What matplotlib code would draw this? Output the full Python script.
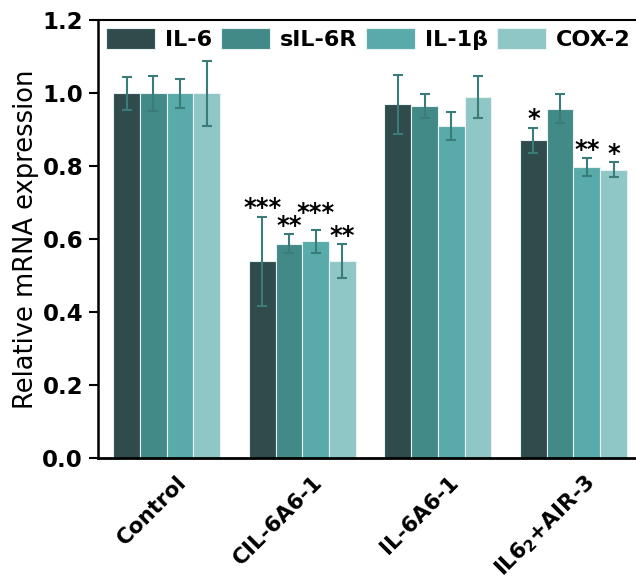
import numpy as np
import matplotlib
matplotlib.use('Agg')
import matplotlib.pyplot as plt
from matplotlib.transforms import ScaledTranslation

groups = ['Control', 'CIL-6A6-1', 'IL-6A6-1', 'IL6$_{\\mathbf{2}}$+AIR-3']
genes = ['IL-6', 'sIL-6R', 'IL-1β', 'COX-2']

il6 = [1.00, 0.54, 0.97, 0.872]
sil6r = [1.00, 0.588, 0.966, 0.958]
il1b = [1.00, 0.595, 0.911, 0.798]
cox2 = [1.00, 0.541, 0.990, 0.791]

il6_err = [0.045, 0.122, 0.080, 0.034]
sil6r_err = [0.047, 0.026, 0.032, 0.040]
il1b_err = [0.039, 0.032, 0.038, 0.024]
cox2_err = [0.088, 0.046, 0.058, 0.020]

il6_sig = ['', '***', '', '*']
sil6r_sig = ['', '**', '', '']
il1b_sig = ['', '***', '', '**']
cox2_sig = ['', '**', '', '*']

colors = ['#2f4b4b', '#428a87', '#58abaa', '#8fc6c6']
err_color = '#3b7b79'

plt.rcParams['font.family'] = 'DejaVu Sans'
plt.rcParams['mathtext.fontset'] = 'dejavusans'

fig = plt.figure(figsize=(6.36, 5.84), dpi=100)
ax = fig.add_axes([0.1541, 0.2149, 0.8459, 0.75])

x = np.arange(len(groups))
width = 0.197
xlim = (-0.5066, 3.461)
series = [(il6, il6_err, il6_sig), (sil6r, sil6r_err, sil6r_sig),
          (il1b, il1b_err, il1b_sig), (cox2, cox2_err, cox2_sig)]

for i, (vals, errs, sigs) in enumerate(series):
    pos = x + (i - 1.5) * width
    ax.bar(pos, vals, width, color=colors[i], edgecolor='#e8f2f2', linewidth=0.8,
           label=genes[i], zorder=2)
    ax.errorbar(pos, vals, yerr=errs, fmt='none', ecolor=err_color, elinewidth=1.5,
                capsize=3.6, capthick=1.5, zorder=3)

# significance stars, nudged up when they would run into the neighbour's
star_fs = 17.5
bar_px = width * fig.get_figwidth() * 100 * 0.8459 / (xlim[1] - xlim[0])
star_px = 0.5 * star_fs * 100 / 72
star_h = 0.035
for g in range(len(groups)):
    prev = None
    for i, (vals, errs, sigs) in enumerate(series):
        s = sigs[g]
        if not s:
            prev = None
            continue
        y = vals[g] + errs[g]
        if prev is not None:
            py, pn = prev
            if (len(s) + pn) * star_px / 2 > bar_px and abs(y - py) < star_h:
                y = py + star_h
        prev = (y, len(s))
        ax.annotate(s, (x[g] + (i - 1.5) * width, y), xytext=(0, 1),
                    textcoords='offset points', ha='center', va='baseline',
                    fontsize=star_fs, fontweight='bold')

ax.set_xlim(*xlim)
ax.set_ylim(0, 1.2)
ax.set_yticks(np.arange(0, 1.21, 0.2))
ax.set_yticklabels([f'{t:.1f}' for t in np.arange(0, 1.21, 0.2)],
                   fontsize=16.5, fontweight='bold')
ax.set_xticks(x)
ax.set_xticklabels(groups, fontsize=15.5, fontweight='bold')
ax.tick_params(axis='y', length=6.5, width=1.5, pad=4.3)
ax.tick_params(axis='x', length=0, pad=9.5)
offset = ScaledTranslation(0.10, 0, fig.dpi_scale_trans)
for lab in ax.get_xticklabels():
    lab.set_rotation(45)
    lab.set_ha('right')
    lab.set_va('top')
    lab.set_rotation_mode('anchor')
    lab.set_transform(lab.get_transform() + offset)

ax.set_ylabel('Relative mRNA expression', fontsize=18.5)
ax.yaxis.set_label_coords(-0.11, 0.5)

ax.spines['right'].set_visible(False)
ax.spines['left'].set_linewidth(1.8)
ax.spines['bottom'].set_linewidth(2.0)
ax.spines['top'].set_linewidth(1.5)

ax.legend(ncol=4, loc='upper left', bbox_to_anchor=(0.0149, 0.983), frameon=False,
          borderpad=0, borderaxespad=0, handlelength=2.2, handleheight=1.1,
          handletextpad=0.45, columnspacing=0.4,
          prop={'size': 16, 'weight': 'bold'})

fig.savefig('out.png', dpi=100)
